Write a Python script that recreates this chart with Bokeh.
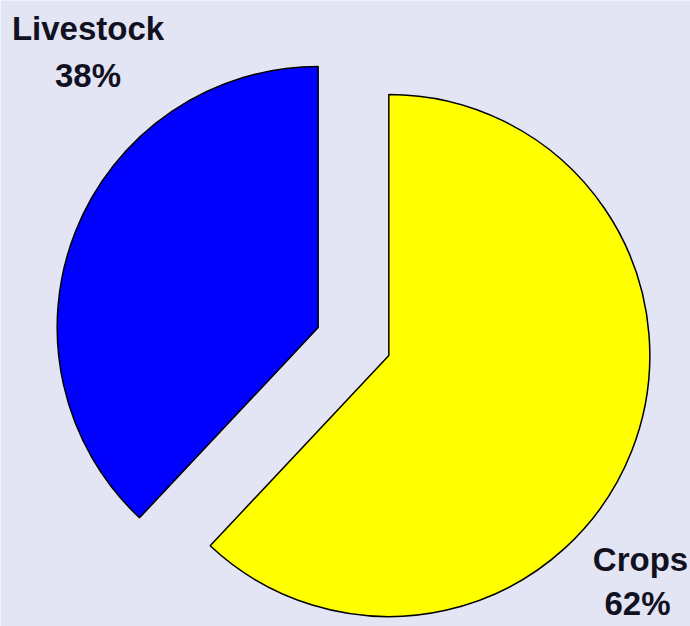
from bokeh.plotting import figure
from bokeh.models import Range1d, ColumnDataSource
from bokeh.embed import file_html
from bokeh.resources import INLINE
from bokeh.core.properties import value
import numpy as np

# Data
categories = ["Crops", "Livestock"]
shares = [62, 38]
colors = ["#FFFF00", "#0000FF"]
label_texts = ["Crops", "62%", "Livestock", "38%"]

BG = "#E3E5F4"
W, H = 690, 626

p = figure(width=W, height=H, x_range=Range1d(0, W), y_range=Range1d(0, H),
           output_backend="svg", toolbar_location=None, min_border=0)
p.axis.visible = False
p.grid.visible = False
p.outline_line_color = None
p.background_fill_color = BG
p.border_fill_color = BG

cx, cy = 353, 285
radius = 261
explode = 38

fr = np.array(shares, dtype=float) / sum(shares)
cum = np.concatenate([[0], np.cumsum(fr)])
start = np.pi / 2 - 2 * np.pi * cum[:-1]
end = np.pi / 2 - 2 * np.pi * cum[1:]
mid = (start + end) / 2
xs = cx + explode * np.cos(mid)
ys = cy + explode * np.sin(mid)

src = ColumnDataSource(dict(x=xs, y=ys, start=start, end=end, color=colors, cat=categories))
p.wedge(x="x", y="y", radius=radius, start_angle="start", end_angle="end",
        direction="clock", fill_color="color", line_color="black", line_width=1.5,
        source=src)

# labels
lab_x = [640, 637, 87.5, 87.5]
lab_y = [67, 23, 598, 551]
p.text(x=lab_x, y=lab_y, text=label_texts, text_align="center", text_baseline="alphabetic",
       text_font=value("Liberation Sans"), text_font_style="bold",
       text_font_size="33px", text_color="#111122")

html = file_html(p, INLINE)
html = html.replace("<body>", '<body style="margin:0;background:%s">' % BG, 1)
open("out.html", "w").write(html)
